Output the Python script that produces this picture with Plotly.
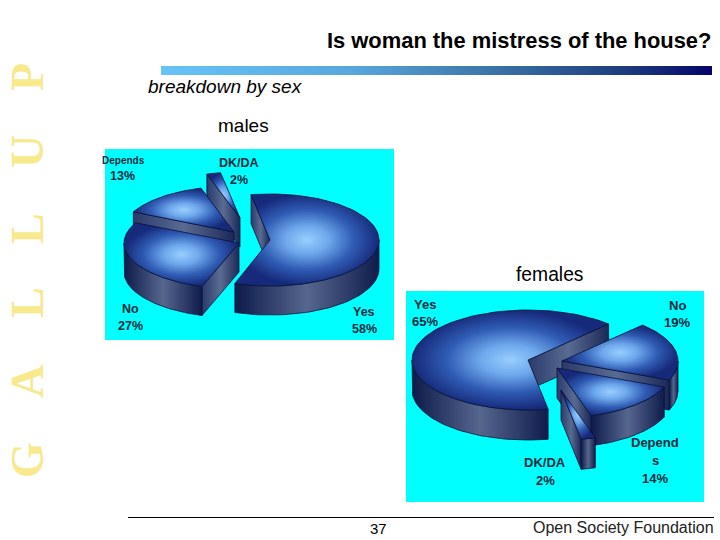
import numpy as np
import plotly.graph_objects as go

# ---- data ----
categories = ["Yes", "No", "Depends", "DK/DA"]
male_values = [58, 27, 13, 2]
female_values = [65, 19, 14, 2]
title_text = "Is woman the mistress of the house?"
subtitle_text = "breakdown by sex"
page_number = "37"
footer_text = "Open Society Foundation"
side_letters = ["P", "U", "L", "L", "A", "G"]

# ---- geometry / styling ----
TOP_SCALE = [[0, "#98ceff"], [0.3, "#6fa8ec"], [0.65, "#2f5cb4"], [1, "#16297a"]]
WALL_SCALE = [[0, "#0d1a4a"], [0.5, "#56678e"], [1, "#0f1c4c"]]
EDGE = "#0a1238"
CYAN = "#00FFFF"

MALE = dict(start=350, rx=112, ry=46, depth=29,
            rxs={"Yes": 109, "No": 115},
            apex={"Yes": (270, 240), "No": (239, 243), "Depends": (234, 232), "DK/DA": (240, 218)},
            order=["DK/DA", "Depends", "No", "Yes"])
FEMALE = dict(start=170, rx=116, ry=50, depth=30, rxs={},
              apex={"Yes": (528, 360), "No": (562, 361), "Depends": (557, 368), "DK/DA": (561, 390)},
              order=["Yes", "No", "Depends", "DK/DA"])

fig = go.Figure()


def poly(xs, ys, gradient=None, color=None):
    fig.add_trace(go.Scatter(
        x=list(xs) + [xs[0]], y=list(ys) + [ys[0]], mode="lines", fill="toself",
        fillcolor=color or "#2f5cb4", fillgradient=gradient,
        line=dict(color=EDGE, width=0.8), hoverinfo="skip", showlegend=False))


def draw_pie(values, g):
    spans = {}
    a = g["start"]
    for name, v in zip(categories, values):
        spans[name] = (a, a + v * 3.6)
        a += v * 3.6
    for name in g["order"]:
        a0, a1 = spans[name]
        cx, cy = g["apex"][name]
        rx, ry, d = g["rxs"].get(name, g["rx"]), g["ry"], g["depth"]
        px = lambda t: cx + rx * np.sin(np.radians(t))
        py = lambda t: cy - ry * np.cos(np.radians(t))
        wall_grad = dict(type="horizontal", colorscale=WALL_SCALE)
        # straight cut faces that look toward the viewer
        for t, vis in ((a0, np.sin(np.radians(a0)) < 0), (a1, np.sin(np.radians(a1)) > 0)):
            if vis:
                poly([cx, px(t), px(t), cx], [cy, py(t), py(t) + d, cy + d],
                     gradient=dict(type="horizontal", colorscale=[[0, "#2a3a6c"], [0.5, "#5a6b92"], [1, "#1a2858"]]))
        # outer wall (front half of the rim only)
        for k in (0, 1):
            lo, hi = max(a0, 90 + 360 * k), min(a1, 270 + 360 * k)
            if hi > lo:
                t = np.linspace(lo, hi, 50)
                poly(np.r_[px(t), px(t[::-1])], np.r_[py(t), py(t[::-1]) + d],
                     gradient=wall_grad)
        # top surface
        t = np.linspace(a0, a1, 90)
        poly(np.r_[cx, px(t)], np.r_[cy, py(t)],
             gradient=dict(type="radial", colorscale=TOP_SCALE))


draw_pie(male_values, MALE)
draw_pie(female_values, FEMALE)

# header gradient bar
poly([161, 712, 712, 161], [66, 66, 75, 75],
     gradient=dict(type="horizontal",
                   colorscale=[[0, "#66c4f8"], [0.35, "#58a6dc"], [0.6, "#3c74a8"], [0.85, "#1c3a7c"], [1, "#04046a"]]))
fig.data[-1].line.width = 0

SANS = "Liberation Sans"
LABEL = "#0b2a3c"
ann = []


def text(x, y, s, size, color="#000000", bold=False, italic=False, anchor="center", family=SANS, angle=0):
    if bold:
        s = f"<b>{s}</b>"
    if italic:
        s = f"<i>{s}</i>"
    ann.append(dict(x=x, y=y, xref="x", yref="y", text=s, showarrow=False, xanchor=anchor, yanchor="middle",
                    textangle=angle, font=dict(family=family, size=size, color=color)))


text(713, 40, title_text, 21.9, bold=True, anchor="right")
text(146, 86, subtitle_text, 19, italic=True, anchor="left")
text(243, 125, "males", 19)
text(550, 274, "females", 19.3)
text(378, 528, page_number, 15)
text(716, 527, footer_text, 16, color="#222222", anchor="right")

male_pct = dict(zip(categories, male_values))
female_pct = dict(zip(categories, female_values))
text(239, 163, "DK/DA", 12.5, LABEL, bold=True)
text(239, 180, f"{male_pct['DK/DA']}%", 12.5, LABEL, bold=True)
text(100, 160, "Depends", 10, LABEL, bold=True, anchor="left")
text(122, 176, f"{male_pct['Depends']}%", 12.5, LABEL, bold=True)
text(130, 309, "No", 12.5, LABEL, bold=True)
text(130, 326, f"{male_pct['No']}%", 12.5, LABEL, bold=True)
text(364, 312, "Yes", 12.5, LABEL, bold=True)
text(364, 329, f"{male_pct['Yes']}%", 12.5, LABEL, bold=True)

text(425, 304, "Yes", 13, LABEL, bold=True)
text(425, 321, f"{female_pct['Yes']}%", 13, LABEL, bold=True)
text(677, 305, "No", 13, LABEL, bold=True)
text(677, 322, f"{female_pct['No']}%", 13, LABEL, bold=True)
text(655, 442, "Depend", 13, LABEL, bold=True)
text(655, 460, "s", 13, LABEL, bold=True)
text(655, 478, f"{female_pct['Depends']}%", 13, LABEL, bold=True)
text(545, 462, "DK/DA", 13, LABEL, bold=True)
text(545, 480, f"{female_pct['DK/DA']}%", 13, LABEL, bold=True)

for letter, y in zip(side_letters, [77, 152, 229, 303, 382, 460]):
    text(27, y, letter, 46, "#f7e98c", bold=True, family="Liberation Serif", angle=-90)

shapes = [
    dict(type="rect", x0=105, x1=394, y0=149, y1=340, fillcolor=CYAN, line_width=0, layer="below"),
    dict(type="rect", x0=406, x1=704, y0=291, y1=502, fillcolor=CYAN, line_width=0, layer="below"),
    dict(type="line", x0=128, x1=714, y0=517.5, y1=517.5, line=dict(color="#000000", width=1), layer="below"),
]

fig.update_layout(
    width=720, height=540, margin=dict(l=0, r=0, t=0, b=0),
    paper_bgcolor="white", plot_bgcolor="white", showlegend=False,
    xaxis=dict(range=[0, 720], visible=False, fixedrange=True),
    yaxis=dict(range=[540, 0], visible=False, fixedrange=True),
    shapes=shapes, annotations=ann,
)
fig.write_html("out.html", config=dict(displayModeBar=False),
               post_script="document.body.style.margin='0';")
